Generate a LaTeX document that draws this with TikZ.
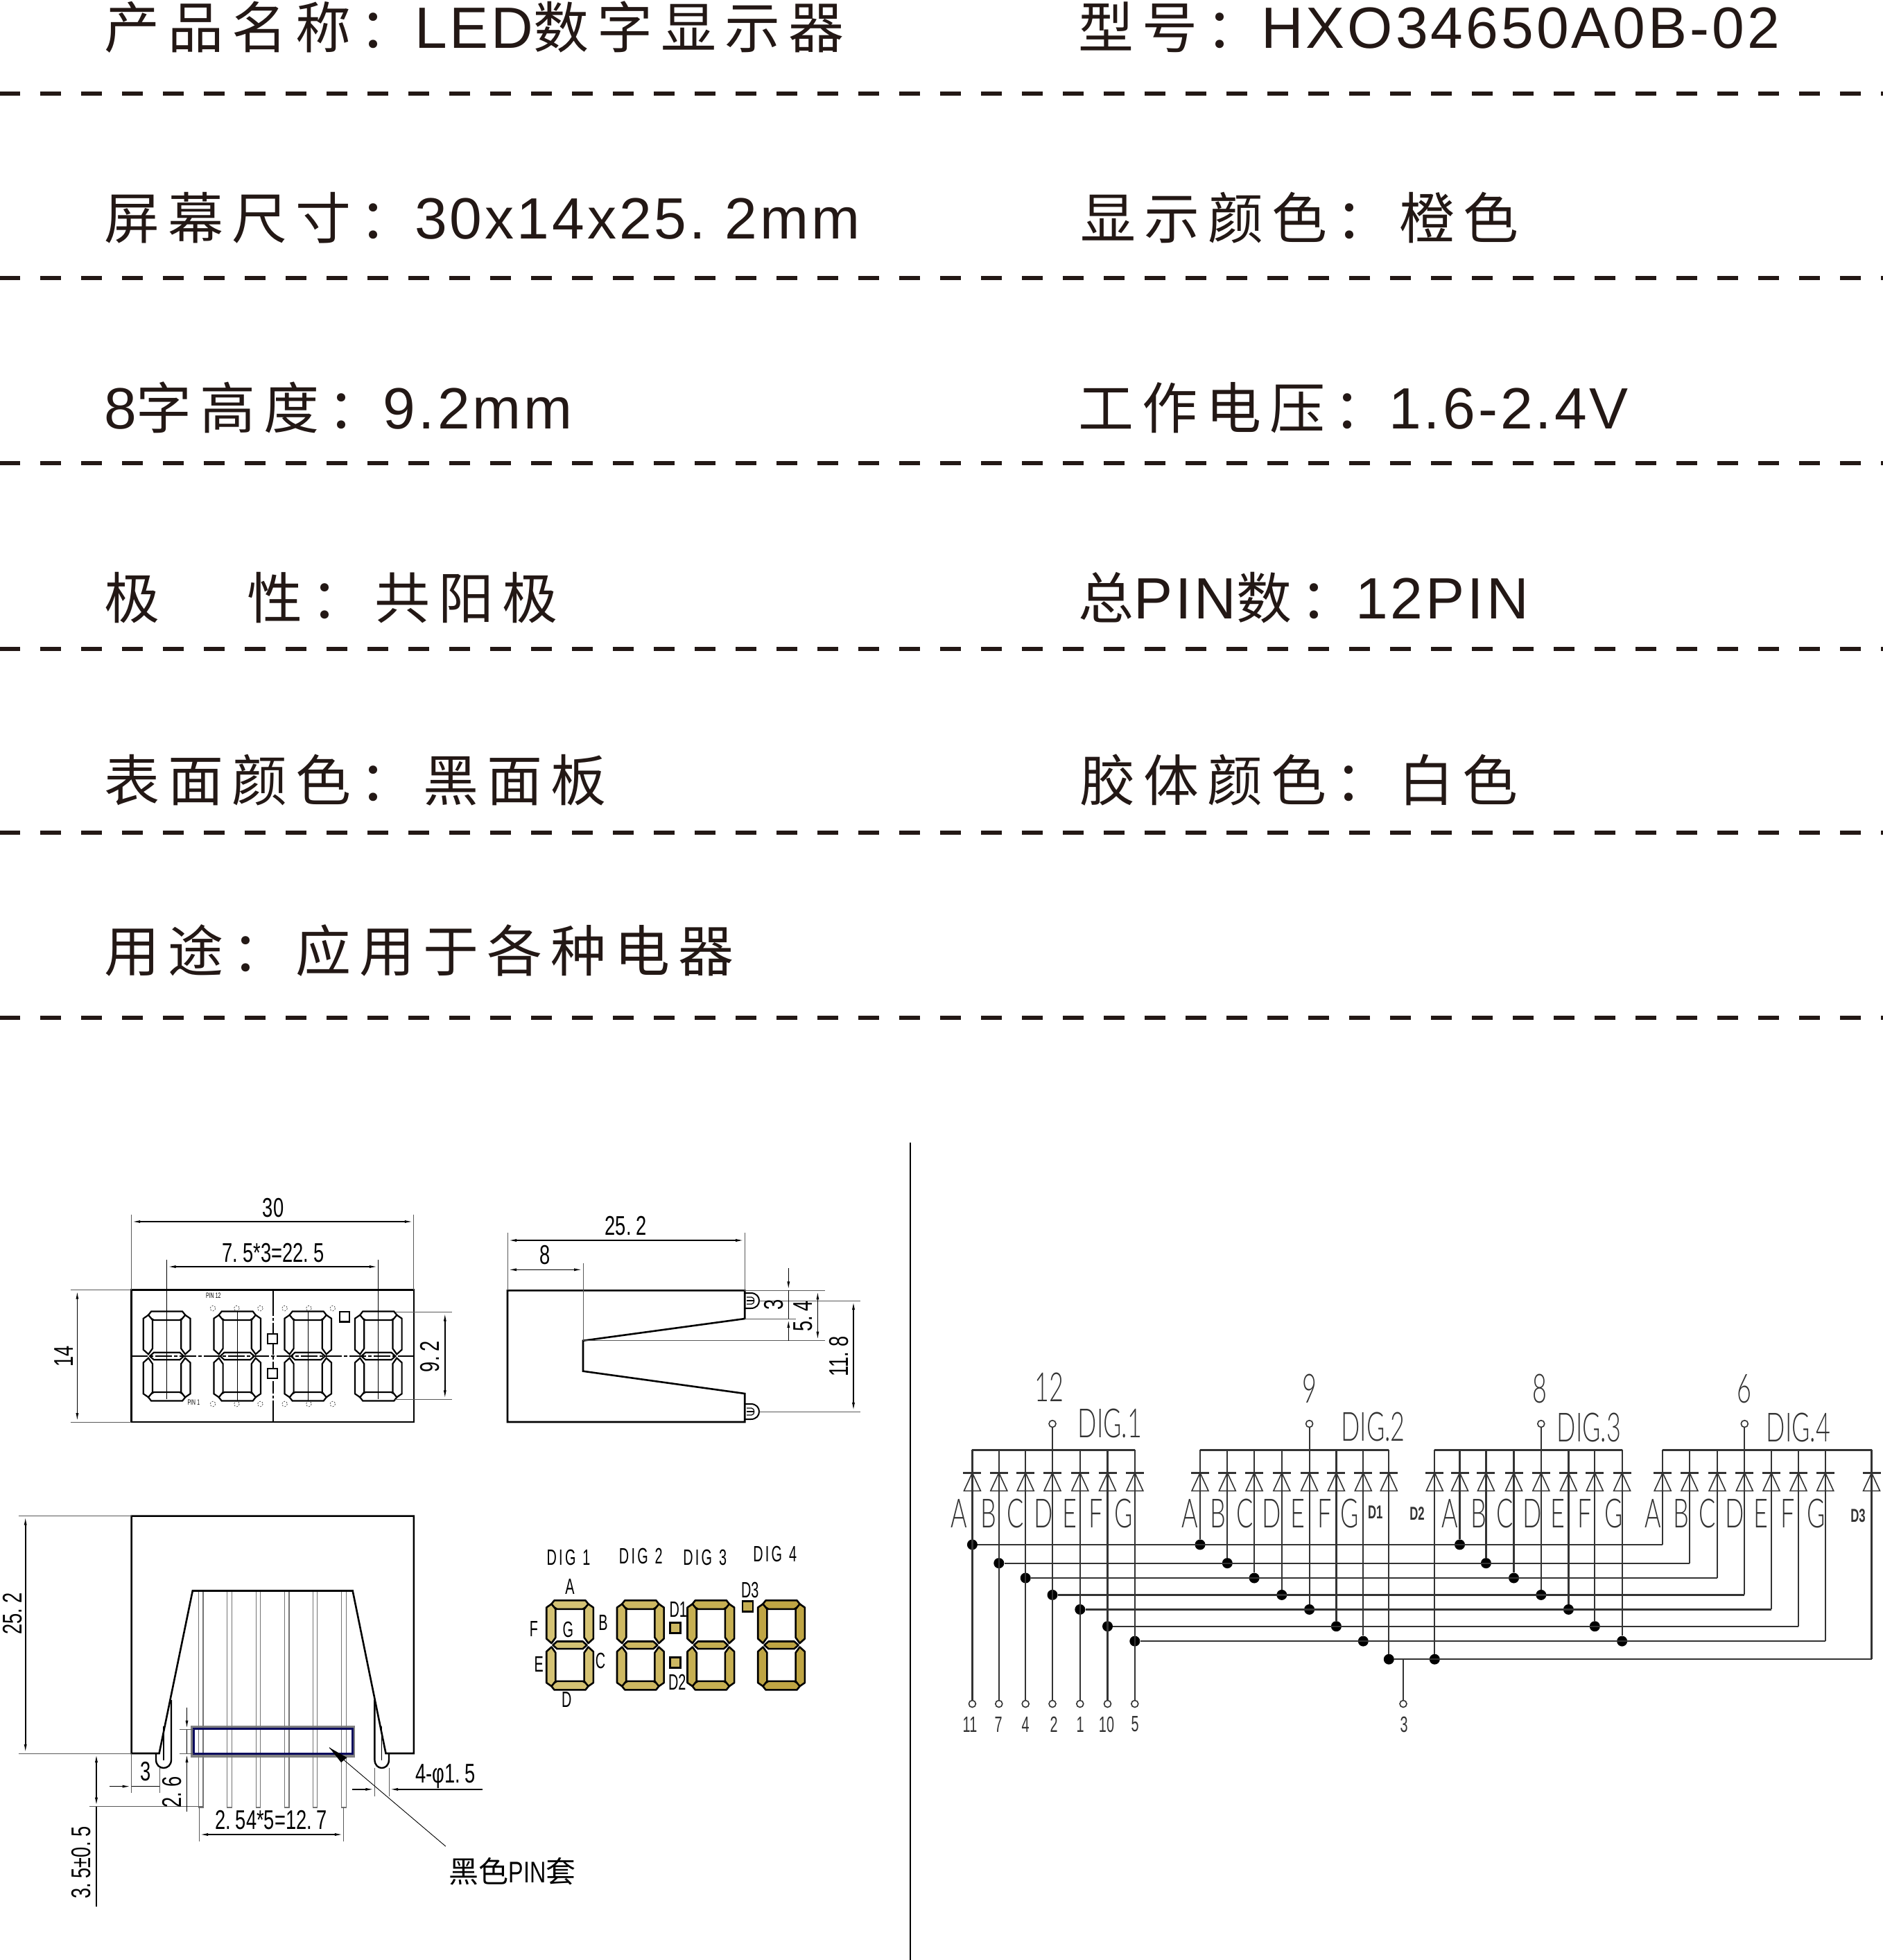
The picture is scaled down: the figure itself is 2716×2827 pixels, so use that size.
\documentclass[tikz,border=0pt]{standalone}
\usepackage{fontspec}
\usepackage{graphicx}
\usetikzlibrary{arrows.meta}
\setmainfont{Liberation Sans}
\newfontfamily\cjkhead[LetterSpace=15]{Noto Sans CJK SC}
\newfontfamily\lathead[LetterSpace=4.8]{Liberation Sans}
\newfontfamily\cjkplain{Noto Sans CJK SC}
\newfontfamily\labfont{Liberation Sans}
\newfontfamily\schfont{Lato Light}
\definecolor{ink}{HTML}{231815}
\definecolor{seg1}{HTML}{D4C274}
\definecolor{seg2}{HTML}{CDB862}
\definecolor{seg3}{HTML}{C6AF52}
\definecolor{seg4}{HTML}{BFA544}
\definecolor{sleevecol}{HTML}{0B0B5E}
\definecolor{schem}{HTML}{333333}
\newcommand\hz[1]{{\cjkhead #1}}
\newcommand\la[1]{{\fontsize{84}{84}\selectfont\lathead #1}}
\newcommand\dd{\hspace{.25em}}
\newcommand\dt[1]{\scalebox{.7}[1]{\fontsize{39}{39}\selectfont\labfont #1}}
\newcommand\dts[1]{\scalebox{.62}[1]{\fontsize{11}{11}\selectfont\labfont #1}}
\newcommand\sm[1]{\scalebox{.62}[1]{\fontsize{32}{32}\selectfont\labfont #1}}
\newcommand\sch[1]{\scalebox{.62}[1]{\fontsize{58}{58}\selectfont\schfont #1}}
\newcommand\schb[1]{\scalebox{.62}[1]{\fontsize{27}{27}\selectfont\labfont\bfseries #1}}
\newcommand\segdigit[3]{%
\begin{scope}[shift={(#1,#2)}]
 \foreach \s in {1,-1}{
  \begin{scope}[yscale=\s]
   \draw[#3] (-22.5,-64.5)--(22.5,-64.5)--(28,-57.5)--(18.6,-52)--(-18.6,-52)--(-28,-57.5)--cycle;
   \draw[#3] (-33.8,-54.3)--(-26.5,-59.3)--(-20.6,-52)--(-20.6,-11)--(-26.5,-2.7)--(-33.8,-9.3)--cycle;
   \draw[#3] (33.8,-54.3)--(26.5,-59.3)--(20.6,-52)--(20.6,-11)--(26.5,-2.7)--(33.8,-9.3)--cycle;
  \end{scope}}
 \draw[#3] (-24.5,0)--(-18.6,-5.3)--(18.6,-5.3)--(24.5,0)--(18.6,5.3)--(-18.6,5.3)--cycle;
\end{scope}}
\newcommand\diode[1]{%
 \draw[wire,line width=2.6pt] (#1-13,2124.3)--(#1+13,2124.3);
 \draw[wirethin] (#1,2124.3)--(#1-12,2150.4)--(#1+12,2150.4)--cycle;}
\tikzset{
 head/.style={anchor=base west,inner sep=0pt,text=ink,font=\fontsize{80}{80}\selectfont},
 rule/.style={draw=ink,line width=6pt,dash pattern=on 30pt off 29pt},
 dimtxt/.style={inner sep=0pt,text=black},
 outl/.style={draw=black,line width=2.6pt,line join=miter},
 thin dim/.style={draw=black!65,line width=1pt},
 dimline/.style={draw=black,line width=1.6pt},
 both/.style={dimline,{Latex[length=13pt,width=4pt]}-{Latex[length=13pt,width=4pt]}},
 endtip/.style={dimline,-{Latex[length=13pt,width=4pt]}},
 segoutl/.style={draw=black,line width=2.2pt,fill=white},
 seggold/.style={draw=black,line width=2.6pt,fill=#1,line join=round},
 wire/.style={draw=schem,line width=2.2pt},
 wirethin/.style={draw=schem,line width=1.6pt},
 junction/.style={circle,fill=black,inner sep=0pt,minimum size=15pt},
 pinhole/.style={circle,draw=schem,line width=1.6pt,fill=white,inner sep=0pt,minimum size=10pt},
 pinbar/.style={draw=black!55,line width=1.2pt,fill=none},
 schtxt/.style={inner sep=0pt,text=schem}
}
\begin{document}
\begin{tikzpicture}[x=1pt,y=-1pt]
\useasboundingbox (0,0) rectangle (2716,2827);
\fill[white] (0,0) rectangle (2716,2827);
% ---------- header
\foreach \yy in {134.7,401,668,936,1201,1468}
  \draw[rule] (-1,\yy) -- (2716,\yy);
\node[head] (h1) at (150,69) {\hz{产品名称：}\la{LED}\hz{数字显示器}};
\node[head] (h2) at (1555,69) {\hz{型号：}\la{HXO34650A0B-02}};
\node[head] (h3) at (150,344) {\hz{屏幕尺寸：}\la{30x14x25.\ 2mm}};
\node[head] (h4) at (1558,344) {\hz{显示颜色：橙色}};
\node[head] (h5) at (150,618) {\la{8}\hz{字高度：}\la{9.2mm}};
\node[head] (h6) at (1555,618) {\hz{工作电压：}\la{1.6-2.4V}};
\node[head] (h7) at (150,892) {\hz{极}\hspace{126pt}\hz{性：共阳极}};
\node[head] (h8) at (1555,892) {\hz{总}\la{PIN}\hz{数：}\la{12PIN}};
\node[head] (h9) at (150,1155) {\hz{表面颜色：黑面板}};
\node[head] (h10) at (1557,1155) {\hz{胶体颜色：白色}};
\node[head] (h11) at (150,1401) {\hz{用途：应用于各种电器}};
% ---------- divider
\draw[draw=black,line width=1.6pt] (1313,1648) -- (1313,2827);
% ---------- front view
\foreach \dx in {240.6,342.2,444.2,545.8}
  \segdigit{\dx}{1956}{segoutl}
\draw[outl] (189.2,1860.7) rectangle (596.8,2051);
\draw[black,line width=2pt,dash pattern=on 24pt off 3pt on 5pt off 3pt] (189.2,1956) -- (596.8,1956);
\draw[black,line width=2pt] (393.6,1860.7) -- (393.6,1880);
\draw[black,line width=2pt,dash pattern=on 18pt off 3pt on 4pt off 3pt] (393.6,1880) -- (393.6,2020);
\draw[black,line width=2pt] (393.6,2020) -- (393.6,2051);
\foreach \dx in {342.2,444.2} \draw[black,line width=1pt] (\dx,1892) -- (\dx,2020);
\draw[black,line width=1pt] (240.6,1817) -- (240.6,2018);
\draw[black,line width=1pt] (545.8,1817) -- (545.8,2018);
\draw[thin dim] (189.2,1751.7) -- (189.2,1860.7);
\draw[thin dim] (596.8,1751.7) -- (596.8,1860.7);
\draw[both] (189.2,1762) -- (596.8,1762);
\draw[both] (240.6,1827) -- (545.8,1827);
\draw[thin dim] (101.5,1860.7) -- (189.2,1860.7);
\draw[thin dim] (101.5,2051) -- (189.2,2051);
\draw[both] (111.4,1860.7) -- (111.4,2051);
\draw[thin dim] (570,1892.7) -- (651.7,1892.7);
\draw[thin dim] (570,2018.3) -- (651.7,2018.3);
\draw[both] (641.8,1892.7) -- (641.8,2018.3);
\foreach \qx/\qy in {392.8/1931,392.8/1981,496.8/1899.3}
  \draw[black,line width=2.2pt,fill=white] (\qx-7.2,\qy-7.2) rectangle (\qx+7.2,\qy+7.2);
\foreach \cx in {307,341.4,375.4,410.6,445.4,479.8}
  \foreach \cy in {1887,2025}
    \draw[black!70,line width=.8pt,dash pattern=on 2pt off 2pt] (\cx,\cy) circle (3.8);
\node[dimtxt] (t30) at (394,1742) {\dt{30}};
\node[dimtxt] (t225) at (394,1807) {\dt{7.\dd 5*3=22.\dd 5}};
\node[dimtxt,rotate=90] (t14) at (91.6,1956.7) {\dt{14}};
\node[dimtxt,rotate=90] (t92) at (620.5,1956.7) {\dt{9.\dd 2}};
\node[dimtxt] (pin12) at (307.8,1869) {\dts{PIN\,\,12}};
\node[dimtxt] (pin1) at (279.4,2022.7) {\dts{PIN\,\,1}};
% ---------- side view
\draw[outl] (732,1861.3) -- (1074.2,1861.3) -- (1074.2,1902) -- (841,1933.7) -- (841,1977.7) -- (1074.2,2010) -- (1074.2,2051) -- (732,2051) -- cycle;
\foreach \cy in {1876,2036}{
  \draw[black,line width=2pt] (1074.2,\cy-11) -- (1083,\cy-11) .. controls (1099,\cy-11) and (1099,\cy+11) .. (1083,\cy+11) -- (1074.2,\cy+11);
  \draw[black,line width=1.2pt] (1077,\cy) -- (1088,\cy);
  \draw[black,line width=1.2pt] (1077,\cy-5) -- (1084,\cy-5) .. controls (1089,\cy-5) and (1089,\cy+5) .. (1084,\cy+5) -- (1077,\cy+5);
}
\draw[thin dim] (732,1778) -- (732,1861.3);
\draw[thin dim] (1074.2,1778) -- (1074.2,1861.3);
\draw[both] (732,1789) -- (1074.2,1789);
\draw[both] (732,1831.3) -- (841,1831.3);
\draw[thin dim] (841,1821.7) -- (841,1933.7);
\draw[thin dim] (1074.2,1861.3) -- (1189.8,1861.3);
\draw[thin dim] (1074.2,1902) -- (1147.7,1902);
\draw[thin dim] (841,1933.7) -- (1189.8,1933.7);
\draw[thin dim] (1095,1876) -- (1241.4,1876);
\draw[thin dim] (1095,2036) -- (1241.4,2036);
\draw[endtip] (1137.3,1829.3) -- (1137.3,1861.3);
\draw[dimline] (1137.3,1861.3) -- (1137.3,1902);
\draw[endtip] (1137.3,1933.7) -- (1137.3,1902);
\draw[both] (1179.4,1861.3) -- (1179.4,1933.7);
\draw[both] (1231,1876) -- (1231,2036);
\node[dimtxt] (t252a) at (902.7,1768) {\dt{25.\dd 2}};
\node[dimtxt] (t8) at (786.4,1810) {\dt{8}};
\node[dimtxt,rotate=90] (t3a) at (1116.3,1881.7) {\dt{3}};
\node[dimtxt,rotate=90] (t54) at (1158.4,1898.3) {\dt{5.\dd 4}};
\node[dimtxt,rotate=90] (t118) at (1210,1956.7) {\dt{11.\dd 8}};
% ---------- bottom view
\fill[black!50] (274.6,2488.7) rectangle (512.4,2535);
\fill[white] (279.2,2493.7) rectangle (508.3,2529.8);
\foreach \px in {289.7,331,372.4,413.7,454.5,495.9}
  \draw[pinbar] (\px-3.2,2294.5) rectangle (\px+3.2,2607);
\draw[draw=sleevecol,line width=3pt] (279.2,2493.7) rectangle (508.3,2529.8);
\draw[outl] (189.6,2529) -- (189.6,2186.6) -- (596.9,2186.6) -- (596.9,2529) -- (556.5,2529) -- (508.7,2294.5) -- (277.8,2294.5) -- (229.6,2529) -- cycle;
\draw[black,line width=2.4pt] (247,2452) -- (247,2538) .. controls (247,2554) and (225,2554) .. (225,2538) -- (225,2529);
\draw[black,line width=2.4pt] (540.4,2452) -- (540.4,2538) .. controls (540.4,2554) and (561,2554) .. (561,2538) -- (561,2529);
\draw[black,line width=1.6pt] (236,2489.5) -- (236,2539);
\draw[black,line width=1.6pt] (550.5,2489.5) -- (550.5,2539);
\draw[thin dim] (26.6,2186.6) -- (189.6,2186.6);
\draw[thin dim] (26.6,2529) -- (189.6,2529);
\draw[both] (36.7,2186.6) -- (36.7,2529);
\draw[thin dim] (128.6,2605.7) -- (293,2605.7);
\draw[both] (139,2529) -- (139,2605.7);
\draw[dimline] (139,2605.7) -- (139,2750);
\draw[thin dim] (189.6,2529) -- (189.6,2586);
\draw[thin dim] (230.5,2549.7) -- (230.5,2586);
\draw[endtip] (158.4,2576.6) -- (189.6,2576.6);
\draw[dimline] (189.6,2576.6) -- (229.6,2576.6);
\draw[thin dim] (259.4,2494.5) -- (279.2,2494.5);
\draw[thin dim] (259.4,2529) -- (279.2,2529);
\draw[endtip] (269.5,2462.5) -- (269.5,2494.5);
\draw[dimline] (269.5,2494.5) -- (269.5,2529);
\draw[endtip] (269.5,2613) -- (269.5,2529);
\draw[thin dim] (287,2607) -- (287,2655.5);
\draw[thin dim] (495.9,2607) -- (495.9,2655.5);
\draw[both] (287,2646) -- (495.9,2646);
\draw[thin dim] (540.4,2549.7) -- (540.4,2591);
\draw[thin dim] (561,2549.7) -- (561,2591);
\draw[endtip] (508.3,2580.8) -- (540.4,2580.8);
\draw[endtip] (695.6,2580.8) -- (561,2580.8);
\coordinate (leadEnd) at (642.8,2663);
\coordinate (leadTip) at (475,2520.6);
\draw[black,line width=.9pt] (leadEnd) -- (leadTip);
\fill[black] (leadTip) -- (500.5,2535) -- (492,2542) -- cycle;
\node[dimtxt,rotate=90] (t252b) at (18.4,2327.7) {\dt{25.\dd 2}};
\node[dimtxt,rotate=90] (t35) at (117,2686.6) {\dt{3.\dd 5±0.\dd 5}};
\node[dimtxt] (t3b) at (210.3,2555) {\dt{3}};
\node[dimtxt,rotate=90] (t26) at (248,2585) {\dt{2.\dd 6}};
\node[dimtxt] (t127) at (391.2,2625) {\dt{2.\dd 54*5=12.\dd 7}};
\node[dimtxt] (t415) at (642.8,2562) {\dt{4-φ1.\dd 5}};
\node[dimtxt] (tsleeve) at (739,2699) {\fontsize{43}{43}\selectfont\cjkplain 黑色{\labfont\scalebox{.75}[1]{PIN}}套};
% ---------- digit diagram
\segdigit{822}{2372.8}{seggold=seg1}
\segdigit{923.8}{2372.8}{seggold=seg2}
\segdigit{1025.3}{2372.8}{seggold=seg3}
\segdigit{1127}{2372.8}{seggold=seg4}
\draw[black,line width=2.6pt,fill=seg2] (966.5,2340.2) rectangle (981.5,2355.2);
\draw[black,line width=2.6pt,fill=seg2] (966.5,2390.2) rectangle (981.5,2405.2);
\draw[black,line width=2.6pt,fill=seg3] (1070.8,2309.2) rectangle (1085.8,2324.2);
\node[dimtxt] (dg1) at (820,2246) {\sm{D\,I\,G\,\,\,1}};
\node[dimtxt] (dg2) at (924.3,2244.3) {\sm{D\,I\,G\,\,\,2}};
\node[dimtxt] (dg3) at (1016.7,2246) {\sm{D\,I\,G\,\,\,3}};
\node[dimtxt] (dg4) at (1117.7,2241.7) {\sm{D\,I\,G\,\,\,4}};
\node[dimtxt] (sA) at (822,2288.3) {\sm{A}};
\node[dimtxt] (sB) at (870,2340.7) {\sm{B}};
\node[dimtxt] (sF) at (770,2349) {\sm{F}};
\node[dimtxt] (sG) at (819.3,2350.7) {\sm{G}};
\node[dimtxt] (sE) at (777.3,2400.7) {\sm{E}};
\node[dimtxt] (sC) at (866,2395) {\sm{C}};
\node[dimtxt] (sD) at (817.3,2451.7) {\sm{D}};
\node[dimtxt] (sD1) at (978.3,2321.7) {\sm{D1}};
\node[dimtxt] (sD2) at (976.7,2426) {\sm{D2}};
\node[dimtxt] (sD3) at (1081.7,2293.3) {\sm{D3}};
% ---------- schematic
% digit 1 : anodes to bottom pins
\foreach \n/\xx/\yr/\pn/\tx in {1/1402.4/2227.9/11/1399,2/1440.8/2254.6/7/1440,3/1479.2/2276/4/1479,4/1518/2300.4/2/1520,5/1557.8/2321.4/1/1558,6/1597.5/2345.7/10/1596,7/1636.8/2367.1/5/1637}{
  \coordinate (a\n) at (\xx,2091.4);
  \node[junction] (ad\n) at (\xx,\yr) {};
  \node[pinhole] (ap\n) at (\xx,2457.5) {};
  \node[schtxt] (at\n) at (\tx,2487) {\sm{\pn}};
  \draw[wire] (a\n) -- (ap\n);
  \diode{\xx}
}
% digit 2
\foreach \n/\xx/\yr in {1/1731/2227.9,2/1770.3/2254.6,3/1809.1/2276,4/1848.8/2300.4,5/1888.6/2321.4,6/1927.4/2345.7,7/1966.3/2367.1,8/2003.3/2393.2}{
  \coordinate (b\n) at (\xx,2091.4);
  \node[junction] (bd\n) at (\xx,\yr) {};
  \draw[wire] (b\n) -- (bd\n);
  \diode{\xx}
}
% digit 3
\foreach \n/\xx/\yr in {8/2069.3/2393.2,1/2105.5/2227.9,2/2143.4/2254.6,3/2183.5/2276,4/2222.8/2300.4,5/2262.4/2321.4,6/2300.3/2345.7,7/2339.6/2367.1}{
  \coordinate (c\n) at (\xx,2091.4);
  \node[junction] (cd\n) at (\xx,\yr) {};
  \draw[wire] (c\n) -- (cd\n);
  \diode{\xx}
}
% digit 4
\foreach \n/\xx/\yr in {1/2398.2/2227.9,2/2437/2254.6,3/2477/2276,4/2516.3/2300.4,5/2555/2321.4,6/2594/2345.7,7/2632.7/2367.1,8/2699.5/2393.2}{
  \coordinate (d\n) at (\xx,2091.4);
  \coordinate (de\n) at (\xx,\yr);
  \draw[wire] (d\n) -- (de\n);
  \diode{\xx}
}
% rails
\foreach \n in {1,...,7} \draw[wire] (ad\n) -- (de\n);
\draw[wire] (bd8) -- (de8);
% busses
\draw[wire] (a1) -- (a7);
\draw[wire] (b1) -- (b8);
\draw[wire] (c8) -- (c7);
\draw[wire] (d1) -- (d8);
% common pins
\node[pinhole] (p12) at (1518,2053.6) {};
\node[pinhole] (p9) at (1888.6,2053.6) {};
\node[pinhole] (p8) at (2222.8,2053.6) {};
\node[pinhole] (p6) at (2516.3,2053.6) {};
\draw[wire] (p12) -- (a4);
\draw[wire] (p9) -- (b5);
\draw[wire] (p8) -- (c4);
\draw[wire] (p6) -- (d4);
% pin 3
\coordinate (r8t) at (2024,2393.2);
\node[pinhole] (p3) at (2024,2457.5) {};
\draw[wire] (r8t) -- (p3);
\node[schtxt] (t3c) at (2025,2487) {\sm{3}};
% common pin numbers / DIG labels
\node[schtxt] (n12) at (1513,2001) {\sch{12}};
\node[schtxt] (n9) at (1889,2003) {\sch{9}};
\node[schtxt] (n8) at (2221,2003) {\sch{8}};
\node[schtxt] (n6) at (2515.4,2003.6) {\sch{6}};
\node[schtxt] (dig1) at (1601,2053) {\sch{DIG.1}};
\node[schtxt] (dig2) at (1980.5,2058) {\sch{DIG.2}};
\node[schtxt] (dig3) at (2292,2059) {\sch{DIG.3}};
\node[schtxt] (dig4) at (2594,2059) {\sch{DIG.4}};
% segment labels
\foreach \nm/\lab/\xx in {a/A/1383,b/B/1426,c/C/1465,d/D/1505,e/E/1543,f/F/1581,g/G/1621}
  \node[schtxt] (l1\nm) at (\xx,2183) {\sch{\lab}};
\foreach \nm/\lab/\xx in {a/A/1716,b/B/1756.4,c/C/1795.3,d/D/1834,e/E/1872,f/F/1910.4,g/G/1947}
  \node[schtxt] (l2\nm) at (\xx,2183) {\sch{\lab}};
\foreach \nm/\lab/\xx in {a/A/2091,b/B/2132.7,c/C/2170.6,d/D/2210,e/E/2247,f/F/2285.7,g/G/2328}
  \node[schtxt] (l3\nm) at (\xx,2183) {\sch{\lab}};
\foreach \nm/\lab/\xx in {a/A/2384,b/B/2425,c/C/2463,d/D/2502.5,e/E/2540,f/F/2578.8,g/G/2619.7}
  \node[schtxt] (l4\nm) at (\xx,2183) {\sch{\lab}};
\node[schtxt] (lD1) at (1983.7,2181) {\schb{D1}};
\node[schtxt] (lD2) at (2044,2183) {\schb{D2}};
\node[schtxt] (lD3) at (2680,2185.7) {\schb{D3}};
\end{tikzpicture}
\end{document}
